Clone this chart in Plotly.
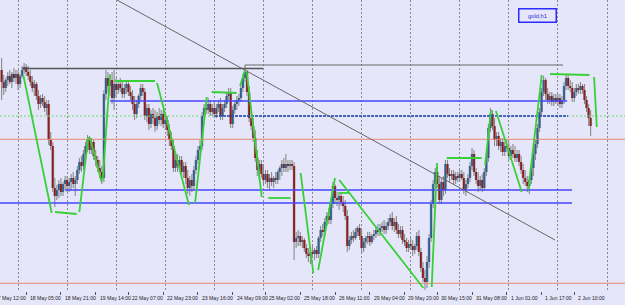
import plotly.graph_objects as go

# ---------------- data (hourly gold candles, bar index 0..288) ----------------
open_ = [
 1273.0, 1271.8, 1271.2, 1272.0, 1272.4, 1271.8, 1272.6, 1272.2, 1272.6, 1271.6,
 1272.4, 1273.0, 1273.3, 1272.8, 1272.4, 1271.8, 1271.2, 1271.6, 1270.4, 1269.6,
 1270.2, 1269.8, 1269.2, 1269.6, 1266.0, 1265.4, 1261.2, 1260.4, 1261.0, 1261.6,
 1260.8, 1261.6, 1262.0, 1261.4, 1261.8, 1262.2, 1261.6, 1262.0, 1263.0, 1263.8,
 1263.4, 1264.6, 1265.4, 1266.0, 1265.0, 1265.8, 1264.4, 1264.0, 1263.2, 1262.8,
 1262.2, 1270.6, 1272.2, 1271.4, 1272.0, 1270.2, 1271.6, 1271.0, 1271.6, 1271.2,
 1270.6, 1271.2, 1271.6, 1270.8, 1270.4, 1269.6, 1268.6, 1269.6, 1270.4, 1271.2,
 1270.8, 1268.4, 1269.2, 1267.6, 1268.6, 1268.2, 1267.4, 1268.4, 1268.0, 1268.6,
 1267.6, 1268.0, 1267.0, 1266.0, 1265.4, 1263.2, 1264.0, 1263.4, 1264.0, 1262.8,
 1263.4, 1262.2, 1261.2, 1262.0, 1261.4, 1263.0, 1264.0, 1265.0, 1265.4, 1268.4,
 1269.2, 1269.0, 1269.6, 1268.8, 1269.2, 1268.6, 1269.2, 1269.6, 1268.4, 1269.2,
 1269.6, 1270.4, 1270.8, 1267.6, 1269.0, 1269.6, 1270.0, 1270.2, 1271.2, 1272.2,
 1272.8, 1270.8, 1268.2, 1267.4, 1266.2, 1264.2, 1263.0, 1263.6, 1262.6, 1262.0,
 1262.6, 1261.8, 1262.2, 1261.8, 1262.2, 1262.0, 1262.8, 1263.2, 1263.6, 1263.2,
 1263.6, 1263.4, 1263.6, 1263.4, 1255.8, 1256.2, 1256.4, 1255.8, 1256.0, 1255.2,
 1254.6, 1254.4, 1254.8, 1254.6, 1255.0, 1254.6, 1256.2, 1257.0, 1256.8, 1257.8,
 1258.4, 1258.0, 1259.6, 1261.4, 1260.2, 1260.0, 1260.4, 1259.8, 1259.4, 1258.4,
 1255.4, 1256.0, 1256.4, 1256.2, 1256.8, 1257.2, 1256.4, 1255.2, 1255.8, 1256.2,
 1256.4, 1255.8, 1256.4, 1256.6, 1257.0, 1256.8, 1257.2, 1257.4, 1257.0, 1257.4,
 1257.8, 1258.2, 1257.4, 1257.8, 1257.0, 1256.6, 1257.0, 1256.0, 1255.8, 1255.2,
 1255.6, 1255.4, 1255.0, 1255.4, 1256.4, 1254.8, 1253.2, 1252.2, 1251.8, 1253.8,
 1256.2, 1259.6, 1261.6, 1262.8, 1261.6, 1260.0, 1261.8, 1261.0, 1263.6, 1262.6,
 1262.4, 1262.6, 1262.0, 1262.4, 1262.2, 1262.6, 1262.2, 1261.0, 1261.6, 1262.2,
 1263.4, 1264.6, 1262.8, 1262.0, 1261.4, 1262.0, 1261.2, 1262.8, 1264.2, 1267.2,
 1268.6, 1267.4, 1266.0, 1266.4, 1265.4, 1265.8, 1264.8, 1265.4, 1265.2, 1264.4,
 1265.0, 1264.6, 1264.2, 1264.6, 1263.8, 1263.0, 1262.2, 1261.8, 1261.4, 1262.0,
 1263.2, 1264.6, 1265.6, 1267.2, 1268.8, 1270.8, 1272.0, 1270.6, 1270.0, 1270.4,
 1269.8, 1270.2, 1269.8, 1270.2, 1269.6, 1270.0, 1271.4, 1272.2, 1271.4, 1271.2,
 1270.2, 1270.8, 1271.2, 1271.0, 1271.4, 1271.0, 1270.0, 1269.2, 1268.2,
]
high = [
 1274.2, 1272.5, 1272.2, 1272.8, 1273.0, 1272.8, 1273.2, 1273.0, 1273.0, 1272.6,
 1273.4, 1273.7, 1273.6, 1273.4, 1273.0, 1272.4, 1272.0, 1271.8, 1271.0, 1270.5,
 1270.6, 1270.4, 1270.0, 1270.0, 1266.8, 1265.8, 1262.2, 1261.5, 1262.0, 1262.2,
 1261.8, 1262.4, 1262.4, 1262.2, 1262.6, 1262.8, 1262.4, 1263.4, 1264.2, 1264.4,
 1265.0, 1265.8, 1266.5, 1266.4, 1266.2, 1266.0, 1265.0, 1264.4, 1264.0, 1263.4,
 1271.0, 1273.0, 1272.8, 1272.6, 1272.8, 1273.0, 1272.2, 1272.0, 1272.2, 1271.8,
 1271.6, 1272.0, 1272.0, 1271.4, 1271.0, 1270.4, 1270.0, 1270.6, 1271.6, 1271.6,
 1271.2, 1269.6, 1269.6, 1269.0, 1269.2, 1269.0, 1268.8, 1269.2, 1269.0, 1269.0,
 1268.6, 1268.4, 1267.6, 1266.8, 1266.0, 1264.4, 1264.6, 1264.4, 1264.4, 1263.8,
 1263.8, 1263.0, 1262.4, 1262.6, 1263.4, 1264.4, 1265.4, 1266.0, 1268.8, 1269.6,
 1270.0, 1270.2, 1270.0, 1269.6, 1269.8, 1269.6, 1270.0, 1270.2, 1269.6, 1270.0,
 1270.8, 1271.2, 1271.2, 1269.4, 1270.0, 1270.4, 1270.6, 1271.6, 1272.6, 1273.2,
 1273.0, 1271.4, 1269.0, 1268.2, 1267.0, 1265.0, 1264.0, 1264.0, 1263.4, 1263.0,
 1263.0, 1262.6, 1262.8, 1262.4, 1262.8, 1263.0, 1263.4, 1264.0, 1264.2, 1264.6,
 1264.0, 1264.0, 1264.0, 1263.8, 1256.8, 1257.0, 1256.8, 1256.4, 1256.2, 1255.6,
 1255.2, 1255.0, 1255.4, 1255.2, 1255.4, 1256.4, 1257.4, 1257.6, 1258.2, 1258.8,
 1259.2, 1260.0, 1261.8, 1261.6, 1260.8, 1260.6, 1260.8, 1260.4, 1260.0, 1259.0,
 1256.4, 1256.8, 1257.0, 1257.2, 1257.4, 1257.6, 1257.0, 1256.2, 1256.4, 1256.8,
 1256.8, 1256.6, 1257.0, 1257.4, 1257.6, 1257.6, 1257.8, 1258.0, 1257.8, 1258.2,
 1258.6, 1258.8, 1258.2, 1258.4, 1257.6, 1257.4, 1257.4, 1256.6, 1256.2, 1256.0,
 1256.2, 1256.0, 1255.6, 1256.8, 1257.0, 1255.2, 1253.8, 1253.0, 1254.4, 1256.6,
 1260.0, 1262.0, 1263.2, 1263.4, 1262.4, 1262.2, 1262.4, 1264.0, 1264.0, 1263.2,
 1263.0, 1263.0, 1262.8, 1262.8, 1263.0, 1263.0, 1262.8, 1262.0, 1262.6, 1263.8,
 1265.2, 1265.0, 1263.2, 1262.8, 1262.4, 1262.6, 1263.2, 1264.6, 1267.6, 1269.2,
 1269.0, 1268.2, 1266.8, 1266.8, 1266.2, 1266.2, 1265.8, 1266.0, 1265.8, 1265.4,
 1265.6, 1265.4, 1265.0, 1265.0, 1264.4, 1263.6, 1263.0, 1262.4, 1262.4, 1263.6,
 1265.0, 1266.0, 1267.6, 1269.2, 1271.2, 1272.4, 1272.2, 1271.2, 1270.8, 1270.8,
 1270.6, 1270.6, 1270.6, 1270.6, 1270.4, 1271.8, 1272.6, 1272.6, 1272.0, 1271.8,
 1271.2, 1271.6, 1271.6, 1271.8, 1271.6, 1271.6, 1270.4, 1269.6, 1269.0,
]
low = [
 1270.0, 1270.5, 1270.8, 1271.4, 1271.6, 1271.2, 1271.8, 1271.6, 1271.0, 1271.2,
 1272.2, 1272.6, 1272.4, 1272.0, 1271.4, 1270.8, 1270.4, 1270.0, 1269.0, 1269.2,
 1269.4, 1268.8, 1268.5, 1265.5, 1265.0, 1260.8, 1259.3, 1260.0, 1260.2, 1260.4,
 1260.4, 1261.0, 1260.8, 1260.8, 1261.0, 1261.2, 1260.4, 1261.6, 1262.6, 1262.8,
 1263.0, 1264.0, 1264.8, 1264.6, 1264.6, 1264.0, 1263.4, 1262.8, 1262.2, 1261.6,
 1261.8, 1270.0, 1270.8, 1270.4, 1269.6, 1269.0, 1270.4, 1270.6, 1270.8, 1270.2,
 1270.2, 1270.6, 1270.4, 1270.0, 1269.0, 1268.0, 1268.2, 1269.2, 1270.0, 1270.4,
 1268.0, 1267.8, 1267.0, 1267.2, 1267.6, 1266.8, 1267.0, 1267.6, 1267.4, 1267.2,
 1267.0, 1266.4, 1265.4, 1265.0, 1262.8, 1262.8, 1262.8, 1263.0, 1262.4, 1262.2,
 1261.6, 1260.6, 1260.4, 1260.8, 1261.0, 1262.6, 1263.6, 1264.4, 1265.0, 1268.0,
 1268.6, 1268.6, 1268.4, 1268.4, 1268.2, 1268.2, 1268.8, 1268.0, 1268.0, 1268.8,
 1269.2, 1270.0, 1267.2, 1267.2, 1268.6, 1269.0, 1269.4, 1269.8, 1270.8, 1271.8,
 1270.4, 1267.8, 1267.0, 1265.8, 1263.8, 1262.4, 1262.0, 1262.2, 1261.4, 1261.6,
 1261.2, 1261.0, 1261.4, 1261.2, 1261.6, 1261.6, 1262.0, 1262.4, 1262.8, 1262.8,
 1262.8, 1263.0, 1263.0, 1254.0, 1255.2, 1255.4, 1255.4, 1255.2, 1254.8, 1254.2,
 1253.8, 1253.6, 1254.2, 1254.0, 1254.2, 1254.2, 1255.8, 1256.4, 1256.4, 1257.4,
 1257.6, 1257.6, 1259.2, 1259.6, 1259.4, 1259.0, 1259.4, 1258.8, 1258.0, 1254.8,
 1255.0, 1255.6, 1255.8, 1256.0, 1256.4, 1256.0, 1254.6, 1254.8, 1255.2, 1255.6,
 1255.4, 1255.6, 1256.0, 1256.2, 1256.4, 1256.4, 1256.8, 1256.6, 1256.6, 1257.0,
 1257.4, 1257.0, 1256.8, 1256.6, 1256.2, 1256.2, 1255.6, 1255.4, 1254.8, 1254.8,
 1255.0, 1254.4, 1254.6, 1255.0, 1254.4, 1252.8, 1251.8, 1251.0, 1251.2, 1253.2,
 1255.8, 1259.2, 1261.2, 1261.2, 1259.6, 1259.6, 1260.4, 1260.6, 1262.2, 1261.8,
 1262.0, 1261.6, 1261.6, 1261.8, 1261.8, 1262.0, 1260.6, 1260.4, 1261.2, 1261.8,
 1263.0, 1262.4, 1261.6, 1260.8, 1261.0, 1260.8, 1261.0, 1262.4, 1263.8, 1266.8,
 1267.0, 1265.4, 1265.4, 1265.0, 1264.8, 1264.4, 1264.4, 1264.8, 1264.0, 1264.0,
 1264.2, 1263.8, 1263.8, 1263.4, 1262.6, 1261.6, 1261.4, 1260.8, 1260.6, 1261.6,
 1262.4, 1264.0, 1265.2, 1266.8, 1268.4, 1270.4, 1270.0, 1269.6, 1269.6, 1269.4,
 1269.4, 1269.6, 1269.4, 1269.2, 1269.2, 1269.6, 1271.0, 1271.0, 1270.8, 1269.8,
 1269.8, 1270.4, 1270.6, 1270.6, 1270.6, 1269.6, 1268.8, 1267.4, 1266.4,
]
close = [
 1271.8, 1271.2, 1272.0, 1272.4, 1271.8, 1272.6, 1272.2, 1272.6, 1271.6, 1272.4,
 1273.0, 1273.3, 1272.8, 1272.4, 1271.8, 1271.2, 1271.6, 1270.4, 1269.6, 1270.2,
 1269.8, 1269.2, 1269.6, 1266.0, 1265.4, 1261.2, 1260.4, 1261.0, 1261.6, 1260.8,
 1261.6, 1262.0, 1261.4, 1261.8, 1262.2, 1261.6, 1262.0, 1263.0, 1263.8, 1263.4,
 1264.6, 1265.4, 1266.0, 1265.0, 1265.8, 1264.4, 1264.0, 1263.2, 1262.8, 1262.2,
 1270.6, 1272.2, 1271.4, 1272.0, 1270.2, 1271.6, 1271.0, 1271.6, 1271.2, 1270.6,
 1271.2, 1271.6, 1270.8, 1270.4, 1269.6, 1268.6, 1269.6, 1270.4, 1271.2, 1270.8,
 1268.4, 1269.2, 1267.6, 1268.6, 1268.2, 1267.4, 1268.4, 1268.0, 1268.6, 1267.6,
 1268.0, 1267.0, 1266.0, 1265.4, 1263.2, 1264.0, 1263.4, 1264.0, 1262.8, 1263.4,
 1262.2, 1261.2, 1262.0, 1261.4, 1263.0, 1264.0, 1265.0, 1265.4, 1268.4, 1269.2,
 1269.0, 1269.6, 1268.8, 1269.2, 1268.6, 1269.2, 1269.6, 1268.4, 1269.2, 1269.6,
 1270.4, 1270.8, 1267.6, 1269.0, 1269.6, 1270.0, 1270.2, 1271.2, 1272.2, 1272.8,
 1270.8, 1268.2, 1267.4, 1266.2, 1264.2, 1263.0, 1263.6, 1262.6, 1262.0, 1262.6,
 1261.8, 1262.2, 1261.8, 1262.2, 1262.0, 1262.8, 1263.2, 1263.6, 1263.2, 1263.6,
 1263.4, 1263.6, 1263.4, 1255.8, 1256.2, 1256.4, 1255.8, 1256.0, 1255.2, 1254.6,
 1254.4, 1254.8, 1254.6, 1255.0, 1254.6, 1256.2, 1257.0, 1256.8, 1257.8, 1258.4,
 1258.0, 1259.6, 1261.4, 1260.2, 1260.0, 1260.4, 1259.8, 1259.4, 1258.4, 1255.4,
 1256.0, 1256.4, 1256.2, 1256.8, 1257.2, 1256.4, 1255.2, 1255.8, 1256.2, 1256.4,
 1255.8, 1256.4, 1256.6, 1257.0, 1256.8, 1257.2, 1257.4, 1257.0, 1257.4, 1257.8,
 1258.2, 1257.4, 1257.8, 1257.0, 1256.6, 1257.0, 1256.0, 1255.8, 1255.2, 1255.6,
 1255.4, 1255.0, 1255.4, 1256.4, 1254.8, 1253.2, 1252.2, 1251.8, 1253.8, 1256.2,
 1259.6, 1261.6, 1262.8, 1261.6, 1260.0, 1261.8, 1261.0, 1263.6, 1262.6, 1262.4,
 1262.6, 1262.0, 1262.4, 1262.2, 1262.6, 1262.2, 1261.0, 1261.6, 1262.2, 1263.4,
 1264.6, 1262.8, 1262.0, 1261.4, 1262.0, 1261.2, 1262.8, 1264.2, 1267.2, 1268.6,
 1267.4, 1266.0, 1266.4, 1265.4, 1265.8, 1264.8, 1265.4, 1265.2, 1264.4, 1265.0,
 1264.6, 1264.2, 1264.6, 1263.8, 1263.0, 1262.2, 1261.8, 1261.4, 1262.0, 1263.2,
 1264.6, 1265.6, 1267.2, 1268.8, 1270.8, 1272.0, 1270.6, 1270.0, 1270.4, 1269.8,
 1270.2, 1269.8, 1270.2, 1269.6, 1270.0, 1271.4, 1272.2, 1271.4, 1271.2, 1270.2,
 1270.8, 1271.2, 1271.0, 1271.4, 1271.0, 1270.0, 1269.2, 1268.2, 1267.4,
]
bars = list(range(len(close)))
assert len(open_) == len(high) == len(low) == len(close) == 289

# time-axis labels (bar index of each label)
label_bars = [-5, 12, 29, 46, 62, 79, 96, 113, 129, 146, 163, 180, 197, 213, 230, 247, 264, 280]
label_text = ["17 May 12:00", "18 May 05:00", "18 May 21:00", "19 May 14:00", "22 May 07:00",
              "22 May 23:00", "23 May 16:00", "24 May 09:00", "25 May 02:00", "25 May 18:00",
              "26 May 11:00", "29 May 04:00", "29 May 20:00", "30 May 15:00", "31 May 08:00",
              "1 Jun 01:00", "1 Jun 17:00", "2 Jun 10:00"]

# drawn objects (bar index, price)
green_trendlines = [
    (10.6, 1272.5, 24.5, 1258.7), (26.1, 1258.8, 36.7, 1258.6), (38.0, 1258.8, 42.4, 1266.3),
    (43.2, 1266.2, 48.9, 1261.8), (49.4, 1262.0, 53.0, 1272.5), (55.4, 1271.9, 75.0, 1271.9),
    (76.0, 1271.7, 91.6, 1259.5), (94.6, 1259.7, 100.3, 1270.3), (102.7, 1270.8, 114.9, 1270.7),
    (116.6, 1271.4, 119.0, 1273.0), (119.8, 1272.8, 127.2, 1260.3), (130.4, 1260.2, 141.3, 1260.2),
    (146.2, 1262.7, 152.4, 1252.7), (154.8, 1253.0, 163.0, 1262.2), (164.6, 1260.7, 170.3, 1260.7),
    (165.1, 1262.0, 206.2, 1251.2), (210.3, 1251.3, 212.9, 1263.7), (217.6, 1264.2, 234.7, 1264.2),
    (236.4, 1263.5, 239.3, 1269.0), (241.7, 1268.9, 254.3, 1260.8), (257.5, 1261.0, 264.1, 1272.5),
    (268.1, 1272.6, 287.4, 1272.5), (289.7, 1272.3, 291.0, 1267.3),
]
top_line_x = [10.0, 127.8]
top_line_y = [1273.15, 1273.15]
step_line_x = [119.0, 119.0, 274.5]
step_line_y = [1273.0, 1273.5, 1273.5]
diag_line_x = [56.4, 270.6]
diag_line_y = [1280.0, 1256.0]
blue_levels = [1269.9, 1261.0, 1259.7]
blue_from = [53.0, 31.0, -0.8]
blue_to = [276.5, 278.9, 278.9]
dashed_level = 1268.4
dashed_from, dashed_to = 104.3, 276.9
dotted_level = 1268.4
salmon_levels = [1266.07, 1251.67]

X_RANGE = [-0.8, 304.8]
Y_RANGE = [1250.9, 1280.0]
BG = "#E6E6FA"
PX_PER_BAR = 625 / (X_RANGE[1] - X_RANGE[0])

fig = go.Figure()

# wicks
wx, wy = [], []
for i in bars:
    wx += [i, i, None]
    wy += [low[i], high[i], None]
fig.add_trace(go.Scatter(x=wx, y=wy, mode="lines", line=dict(color="#8a8a8a", width=1.1),
                         hoverinfo="skip", connectgaps=False))

# body outlines (gray) then coloured bodies
ox, oy = [], []
for i in bars:
    ox += [i, i, None]
    oy += [open_[i], close[i], None]
fig.add_trace(go.Scatter(x=ox, y=oy, mode="lines", line=dict(color="#a0a0a8", width=2.8),
                         hoverinfo="skip", connectgaps=False))
for bull, col in ((True, "#2c5f90"), (False, "#8e1b1b")):
    bx, by = [], []
    for i in bars:
        if (close[i] > open_[i]) == bull:
            bx += [i, i, None]
            by += [open_[i], close[i], None]
    fig.add_trace(go.Scatter(x=bx, y=by, mode="lines", line=dict(color=col, width=1.8),
                             hoverinfo="skip", connectgaps=False))

# horizontal levels
fig.add_trace(go.Scatter(x=X_RANGE, y=[dotted_level] * 2, mode="lines",
                         line=dict(color="#6fdc6f", width=1, dash="2px,2px"), hoverinfo="skip"))
for lv in salmon_levels:
    fig.add_trace(go.Scatter(x=X_RANGE, y=[lv, lv], mode="lines",
                             line=dict(color="#e8866e", width=1), hoverinfo="skip"))
fig.add_trace(go.Scatter(x=[dashed_from, dashed_to], y=[dashed_level] * 2, mode="lines",
                         line=dict(color="#1d3fb5", width=1.3, dash="3px,1px"), hoverinfo="skip"))
for lv, a, b in zip(blue_levels, blue_from, blue_to):
    fig.add_trace(go.Scatter(x=[a, b], y=[lv, lv], mode="lines",
                             line=dict(color="#4646ff", width=1.3), hoverinfo="skip"))

# gray objects
fig.add_trace(go.Scatter(x=top_line_x, y=top_line_y, mode="lines",
                         line=dict(color="#555555", width=1.6), hoverinfo="skip"))
fig.add_trace(go.Scatter(x=step_line_x, y=step_line_y, mode="lines",
                         line=dict(color="#6a6a6a", width=1), hoverinfo="skip"))
fig.add_trace(go.Scatter(x=diag_line_x, y=diag_line_y, mode="lines",
                         line=dict(color="#666666", width=1), hoverinfo="skip"))

# green trend lines
gx, gy = [], []
for x0, y0, x1, y1 in green_trendlines:
    gx += [x0, x1, None]
    gy += [y0, y1, None]
fig.add_trace(go.Scatter(x=gx, y=gy, mode="lines", line=dict(color="#38d038", width=1.8),
                         hoverinfo="skip", connectgaps=False))

# helper trace for the grid axis
fig.add_trace(go.Scatter(x=[X_RANGE[0]], y=[Y_RANGE[0]], xaxis="x2", mode="markers",
                         marker=dict(opacity=0), hoverinfo="skip"))

annotations = []
for b, t in zip(label_bars, label_text):
    xa = max(b + 0.9, X_RANGE[0])
    shift = (b + 0.9 - xa) * PX_PER_BAR
    annotations.append(dict(x=xa, xref="x", y=0, yref="paper", text=t, showarrow=False,
                            xanchor="left", yanchor="top", yshift=-2, xshift=shift,
                            font=dict(family="Liberation Sans, Arial", size=5.1, color="#222222")))
annotations.append(dict(x=537.5 / 625, xref="paper", y=1 - 15 / 291, yref="paper", text="gold,h1",
                        showarrow=False, xanchor="center", yanchor="middle",
                        width=34, height=10, borderpad=1, bordercolor="#2b2bff", borderwidth=1.5,
                        bgcolor=BG, font=dict(family="Liberation Sans, Arial", size=5.8, color="#2a2ad0")))

fig.update_layout(
    width=625, height=305,
    margin=dict(l=0, r=0, t=0, b=14),
    paper_bgcolor=BG, plot_bgcolor=BG,
    showlegend=False,
    xaxis=dict(range=X_RANGE, showgrid=False, zeroline=False, tickmode="array",
               tickvals=label_bars, ticktext=[""] * len(label_bars), ticks="outside",
               ticklen=3, tickwidth=1, tickcolor="#555555", showline=False),
    xaxis2=dict(range=X_RANGE, overlaying="x", tickmode="linear", tick0=8, dtick=24,
                showgrid=True, griddash="2px,2px", gridcolor="#8c8c8c", gridwidth=1,
                showticklabels=False, ticks="", zeroline=False, showline=False),
    yaxis=dict(range=Y_RANGE, showgrid=False, zeroline=False, showticklabels=False, ticks=""),
    annotations=annotations,
)

fig.write_html("out.html")
